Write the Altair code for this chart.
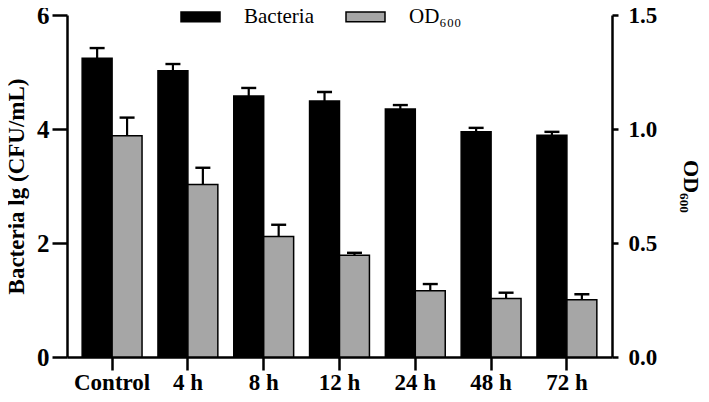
import altair as alt
import pandas as pd

times = ["Control", "4 h", "8 h", "12 h", "24 h", "48 h", "72 h"]
series = ["Bacteria", "OD₆₀₀"]
bacteria = [5.24, 5.02, 4.58, 4.49, 4.35, 3.95, 3.89]
bacteria_err = [0.18, 0.12, 0.14, 0.16, 0.07, 0.07, 0.06]
od600 = [0.97, 0.757, 0.528, 0.446, 0.291, 0.257, 0.251]
od600_err = [0.08, 0.073, 0.052, 0.011, 0.029, 0.025, 0.024]
colors = ["#000000", "#a6a6a6"]

rows = []
for t, v, e in zip(times, bacteria, bacteria_err):
    rows.append({"time": t, "series": series[0], "value": v, "top": v + e})
for t, v, e in zip(times, od600, od600_err):
    rows.append({"time": t, "series": series[1], "value": v, "top": v + e})
df = pd.DataFrame(rows)

FONT = "Liberation Serif"

x = alt.X(
    "time:N", sort=times,
    scale=alt.Scale(paddingInner=0.21, paddingOuter=0.2),
    axis=alt.Axis(title=None, labelAngle=0, labelFont=FONT, labelFontWeight="bold",
                  labelFontSize=23, labelColor="black", tickSize=13, tickWidth=2.5,
                  tickColor="black", domainWidth=2.5, domainColor="black", labelPadding=1),
)
xoff = alt.XOffset("series:N", scale=alt.Scale(domain=series, paddingInner=0, paddingOuter=0))
color = alt.Color(
    "series:N",
    scale=alt.Scale(domain=series, range=colors),
    legend=alt.Legend(
        title=None, orient="none", direction="horizontal", columns=2,
        legendX=113, legendY=-19, padding=0,
        symbolType="M-1,-0.25L1,-0.25L1,0.25L-1,0.25Z", symbolSize=1521,
        symbolStrokeColor="black", symbolStrokeWidth=1.5, symbolOpacity=1,
        labelFont=FONT, labelFontSize=21, labelColor="black", labelOffset=23,
        columnPadding=29,
    ),
)


def layer(name, domain, axis):
    base = alt.Chart(df).transform_filter(alt.datum.series == name)
    y = alt.Y("value:Q", scale=alt.Scale(domain=domain, nice=False, zero=True), axis=axis)
    bars = base.mark_bar(stroke="black", strokeWidth=1.5).encode(x=x, xOffset=xoff, y=y, color=color)
    rules = base.mark_rule(color="black", strokeWidth=2.2).encode(
        x=x, xOffset=xoff, y=alt.Y("value:Q", scale=alt.Scale(domain=domain, nice=False)), y2="top:Q")
    caps = base.mark_tick(orient="horizontal", size=15, thickness=2.4, color="black", opacity=1).encode(
        x=x, xOffset=xoff, y=alt.Y("top:Q", scale=alt.Scale(domain=domain, nice=False)))
    return alt.layer(bars, rules, caps)


left_axis = alt.Axis(
    orient="left", values=[0, 2, 4, 6], format="d", title="Bacteria lg (CFU/mL)", grid=False,
    labelFont=FONT, labelFontWeight="bold", labelFontSize=25, labelColor="black", labelPadding=3,
    tickSize=15, tickWidth=2.5, tickColor="black", domainWidth=2.5, domainColor="black",
    titleFont=FONT, titleFontWeight="bold", titleFontSize=23, titleColor="black", titlePadding=8,
)
right_axis = alt.Axis(
    orient="right", values=[0, 0.5, 1.0, 1.5], format=".1f", title="OD₆₀₀", grid=False,
    labelFont=FONT, labelFontWeight="bold", labelFontSize=23, labelColor="black", labelPadding=10,
    tickSize=6, tickWidth=2.5, tickColor="black", domainWidth=2.5, domainColor="black",
    titleFont=FONT, titleFontWeight="bold", titleFontSize=22, titleColor="black", titlePadding=22,
    titleAngle=90,
)

chart = alt.layer(
    layer(series[0], [0, 6], left_axis),
    layer(series[1], [0, 1.5], right_axis),
).resolve_scale(y="independent").properties(
    width=545, height=342, autosize="none",
    padding={"left": 59, "top": 7, "right": 89, "bottom": 37},
    background="white",
).configure_view(stroke=None)

chart.save("out.html", embed_options={"renderer": "svg", "actions": False})
